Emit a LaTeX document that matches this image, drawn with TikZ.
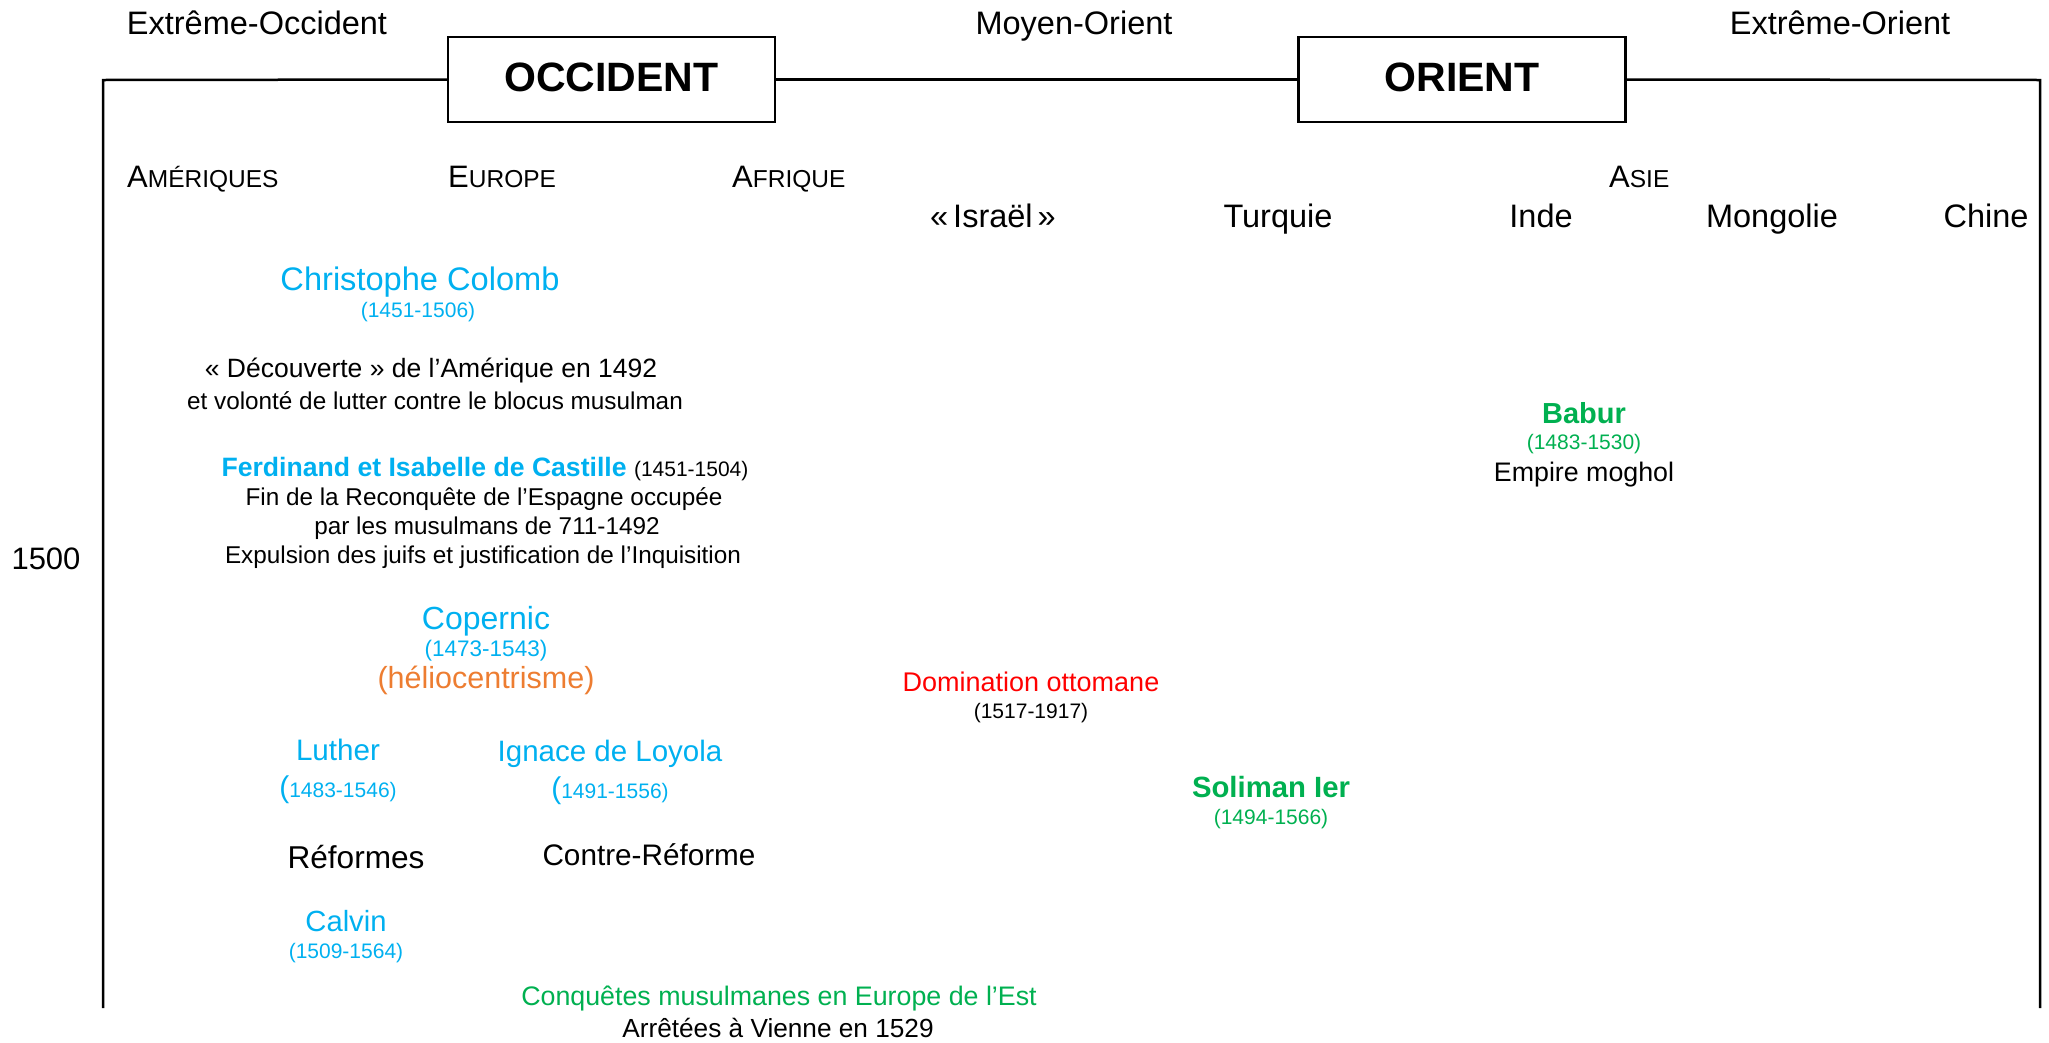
\documentclass[tikz,border=0pt]{standalone}
\usepackage{fontspec}
\setmainfont{Liberation Sans}
\newcommand{\myfs}[1]{\fontsize{#1}{#1}\selectfont}
\definecolor{cblue}{HTML}{00B0F0}
\definecolor{cgreen}{HTML}{00B050}
\definecolor{cred}{HTML}{FF0000}
\definecolor{corange}{HTML}{ED7D31}
\tikzset{
  txt/.style={inner sep=0pt, anchor=base},
  txtw/.style={inner sep=0pt, anchor=base west},
  region/.style={txt, font=\myfs{32.5}},
  colhead/.style={txt, font=\myfs{32.5}},
  bigbox/.style={draw, line width=2.5pt, minimum width=327pt, minimum height=85pt, inner sep=0pt, font=\bfseries\myfs{41}},
  frame/.style={line width=2.5pt},
  person/.style={txt, text=cblue},
  dates/.style={txt, font=\myfs{21}},
  body/.style={txt, font=\myfs{24.3}},
}
\begin{document}
\begin{tikzpicture}[x=1pt,y=-1pt]
\useasboundingbox (0,0) rectangle (2049,1042);
% header regions
\node[region] (xocc) at (257,34) {Extrême-Occident};
\node[region] (moy) at (1074,34) {Moyen-Orient};
\node[region] (xori) at (1840,34) {Extrême-Orient};
% boxes
\node[bigbox] (occ) at (611.5,79.5) {\raisebox{4pt}{OCCIDENT}};
\node[bigbox] (ori) at (1462,79.5) {\raisebox{4pt}{ORIENT}};
\coordinate (tl) at (103,80);
\coordinate (bl) at (103,1008);
\coordinate (tr) at (2040,80);
\coordinate (br) at (2040,1008);
\draw[frame] (bl) -- (tl) -- (occ.west);
\draw[frame] (occ.east) -- (ori.west);
\draw[frame] (ori.east) -- (tr) -- (br);
% continents (small caps)
\node[txtw] (ame) at (127,187) {\myfs{31}A\myfs{24.5}MÉRIQUES};
\node[txtw] (eur) at (448,187) {\myfs{31}E\myfs{24.5}UROPE};
\node[txtw] (afr) at (732,187) {\myfs{31}A\myfs{24.5}FRIQUE};
\node[txtw] (asi) at (1609,187) {\myfs{31}A\myfs{24.5}SIE};
% countries
\node[colhead] (isr) at (993,227) {«\hspace{5pt}Israël\hspace{5pt}»};
\node[colhead] (tur) at (1278,227) {Turquie};
\node[colhead] (ind) at (1541,227) {Inde};
\node[colhead] (mon) at (1772,227) {Mongolie};
\node[colhead] (chi) at (1986,227) {Chine};
% year
\node[txt, font=\myfs{31}] (y1500) at (46,569) {1500};
% Colomb
\node[person, font=\myfs{32.6}] (colomb) at (420,290) {Christophe Colomb};
\node[dates, text=cblue] (colombd) at (418,317.5) {(1451-1506)};
\node[txt, font=\myfs{26.5}] (decouv) at (431,377.5) {«~Découverte~» de l’Amérique en 1492};
\node[body] (volonte) at (435,409) {et volonté de lutter contre le blocus musulman};
% Ferdinand
\node[txt] (ferd) at (485,476.6) {{\bfseries\myfs{26.6}\color{cblue}Ferdinand et Isabelle de Castille }{\myfs{21}(1451-1504)}};
\node[body] (fin) at (484,505.7) {Fin de la Reconquête de l’Espagne occupée};
\node[body] (par) at (487,534) {par les musulmans de 711-1492};
\node[body] (expul) at (483,563) {Expulsion des juifs et justification de l’Inquisition};
% Copernic
\node[person, font=\myfs{32}] (cop) at (486,629.5) {Copernic};
\node[txt, text=cblue, font=\myfs{22.5}] (copd) at (486,656) {(1473-1543)};
\node[txt, text=corange, font=\myfs{30.5}] (helio) at (486,688) {(héliocentrisme)};
% Ottoman
\node[txt, text=cred, font=\myfs{27}] (domin) at (1031,691.7) {Domination ottomane};
\node[dates] (domind) at (1031,718.6) {(1517-1917)};
% Luther / Loyola
\node[person, font=\myfs{29.6}] (luther) at (338,760.7) {Luther};
\node[txt, text=cblue] (lutherd) at (338,797) {{\myfs{30}(}{\myfs{21}1483-1546)}};
\node[person, font=\myfs{29.5}] (loyola) at (610,761.6) {Ignace de Loyola};
\node[txt, text=cblue] (loyolad) at (610,798.6) {{\myfs{30}(}{\myfs{21}1491-1556)}};
% Soliman
\node[txt, text=cgreen, font=\bfseries\myfs{29.3}] (soliman) at (1271,797.5) {Soliman Ier};
\node[dates, text=cgreen] (solimand) at (1271,824.6) {(1494-1566)};
% Reformes
\node[txt, font=\myfs{31.6}] (reformes) at (356,868) {Réformes};
\node[txt, font=\myfs{29.7}] (contre) at (649,865.7) {Contre-Réforme};
% Calvin
\node[person, font=\myfs{29.2}] (calvin) at (346,931.5) {Calvin};
\node[dates, text=cblue] (calvind) at (346,958.6) {(1509-1564)};
% Conquetes
\node[txt, text=cgreen, font=\myfs{26.8}] (conq) at (779,1005.6) {Conquêtes musulmanes en Europe de l’Est};
\node[txt, font=\myfs{26.2}] (vienne) at (778,1037.4) {Arrêtées à Vienne en 1529};
% Babur
\node[txt, text=cgreen, font=\bfseries\myfs{29}] (babur) at (1584,423.4) {Babur};
\node[dates, text=cgreen] (babud) at (1584,449.6) {(1483-1530)};
\node[txt, font=\myfs{26.8}] (moghol) at (1584,481.6) {Empire moghol};
\end{tikzpicture}
\end{document}
